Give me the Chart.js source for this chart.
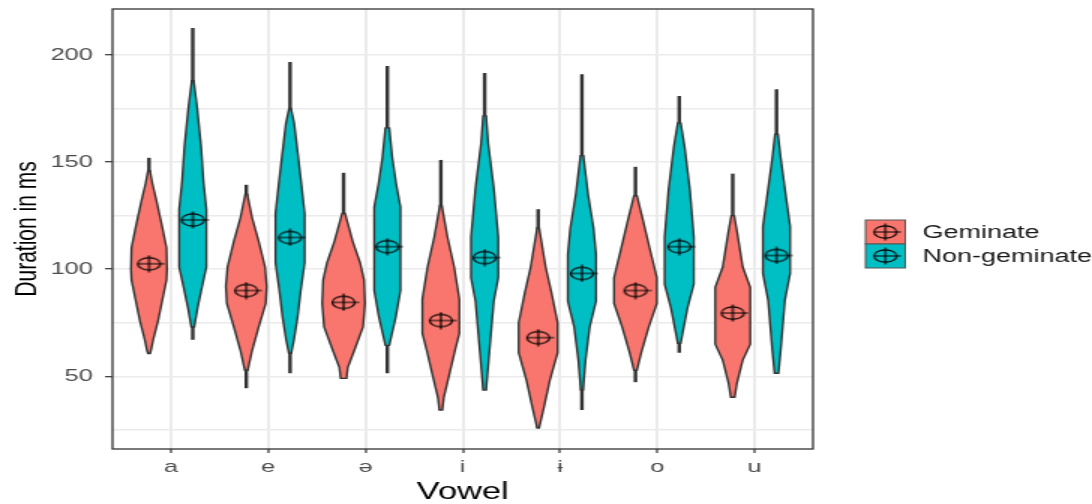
<!DOCTYPE html>
<html>
<head>
<meta charset="utf-8">
<script src="https://cdn.jsdelivr.net/npm/chart.js@4.4.1/dist/chart.umd.min.js"></script>
<style>
    html, body { margin: 0; padding: 0; background: #fff; overflow: hidden; }
    /* the reference is stretched sideways, so draw narrow and stretch the box */
    #wrap { width: 728px; height: 504px; transform: scaleX(1.5); transform-origin: 0 0; }
</style>
</head>
<body>
<div id="wrap"><canvas id="violin-chart"></canvas></div>
<script>
// Categories and groups
const vowels = ['a', 'e', 'ə', 'i', 'ɨ', 'o', 'u'];
const groupNames = ['Geminate', 'Non-geminate'];
const groupColors = ['#F8766D', '#00BFC4'];
const yTicks = [25, 50, 75, 100, 125, 150, 175, 200];

// Means (ms)
const gemMeans = [102.5, 90, 84.5, 76, 68, 90, 79.5];
const nonMeans = [123, 114.8, 110.5, 105.4, 98, 110.5, 106.4];

// Full range of each group [min, max] (ms)
const gemRange = [[60.6, 152], [44.4, 139.4], [49, 145], [34.2, 151], [25.8, 128], [47.2, 147.8], [40.2, 144.6]];
const nonRange = [[67, 212.6], [51.4, 196.7], [51.4, 194.9], [43.5, 191.6], [34.2, 191], [61, 180.9], [51.4, 184]];

// Violin outlines: [duration, half width in category units], top to bottom
const gemProfiles = [
    [[146, 0.01], [140, 0.035], [132, 0.077], [120, 0.135], [110, 0.18], [100, 0.185], [95, 0.18], [85, 0.135], [76, 0.094], [67, 0.043], [62, 0.02], [60.6, 0.01]],
    [[135, 0.01], [124, 0.06], [113, 0.128], [101, 0.193], [92, 0.21], [84, 0.2], [73, 0.128], [62, 0.06], [52.8, 0.015]],
    [[126, 0.015], [113, 0.094], [103, 0.17], [95, 0.21], [84, 0.22], [73, 0.2], [62, 0.11], [54, 0.043], [49, 0.03]],
    [[129.7, 0.01], [115, 0.068], [101, 0.137], [86, 0.19], [70, 0.19], [62, 0.145], [49.5, 0.08], [40, 0.03], [34.2, 0.015]],
    [[119.4, 0.01], [101, 0.077], [89, 0.137], [75, 0.2], [61, 0.2], [48, 0.12], [35.6, 0.06], [25.8, 0.01]],
    [[134.3, 0.015], [123, 0.077], [110, 0.145], [96, 0.22], [84, 0.22], [73, 0.137], [61, 0.06], [52.8, 0.015]],
    [[125, 0.015], [116.6, 0.048], [101, 0.103], [91.5, 0.18], [65, 0.18], [57.5, 0.103], [46.7, 0.043], [40.2, 0.02]]
];
const nonProfiles = [
    [[188, 0.01], [175, 0.046], [157, 0.086], [141, 0.11], [128, 0.14], [101, 0.14], [91.5, 0.094], [82, 0.05], [73, 0.015]],
    [[175, 0.01], [168, 0.043], [155, 0.077], [140, 0.116], [126, 0.15], [103, 0.15], [90, 0.11], [77.5, 0.077], [67, 0.04], [60.7, 0.012]],
    [[166, 0.02], [152, 0.051], [140, 0.09], [129, 0.135], [90, 0.135], [77.5, 0.086], [68, 0.038], [64.4, 0.02]],
    [[171.6, 0.015], [158.5, 0.037], [138, 0.094], [115, 0.14], [96, 0.14], [85, 0.094], [62, 0.05], [43.5, 0.015]],
    [[153, 0.015], [135, 0.063], [119, 0.12], [107, 0.145], [85, 0.145], [73, 0.08], [57.5, 0.037], [43.5, 0.012]],
    [[168.3, 0.015], [157, 0.056], [137, 0.11], [115, 0.15], [93, 0.15], [82, 0.086], [70, 0.034], [65.4, 0.015]],
    [[163, 0.015], [152, 0.043], [132, 0.103], [120, 0.14], [98, 0.14], [85.4, 0.086], [62, 0.043], [51.4, 0.02]]
];

const dodge = 0.225;
const fontFamily = "'Liberation Sans', Arial, sans-serif";

// Circle-plus marker for the means
function makeMarker() {
    const c = document.createElement('canvas');
    c.width = 22;
    c.height = 18;
    const m = c.getContext('2d');
    m.strokeStyle = '#000';
    m.lineWidth = 1.2;
    m.beginPath();
    m.ellipse(11, 9, 7.5, 6.2, 0, 0, Math.PI * 2);
    m.stroke();
    m.beginPath();
    m.moveTo(3, 9);
    m.lineTo(21.5, 9);
    m.moveTo(11, 0.5);
    m.lineTo(11, 17.5);
    m.stroke();
    return c;
}
const marker = makeMarker();

// Draws range lines and violin shapes under the mean markers
const violinPlugin = {
    id: 'violins',
    beforeDatasetsDraw(chart) {
        const ctx = chart.ctx;
        const xs = chart.scales.x;
        const ys = chart.scales.y;
        const area = chart.chartArea;
        ctx.save();
        ctx.beginPath();
        ctx.rect(area.left, area.top, area.right - area.left, area.bottom - area.top);
        ctx.clip();
        [gemProfiles, nonProfiles].forEach((profiles, g) => {
            const ranges = g === 0 ? gemRange : nonRange;
            profiles.forEach((profile, i) => {
                const cx = i + 1 + (g === 0 ? -dodge : dodge);
                const px = xs.getPixelForValue(cx);

                ctx.strokeStyle = '#333333';
                ctx.lineWidth = 2.4;
                ctx.beginPath();
                ctx.moveTo(px, ys.getPixelForValue(ranges[i][0]));
                ctx.lineTo(px, ys.getPixelForValue(ranges[i][1]));
                ctx.stroke();

                ctx.beginPath();
                profile.forEach(([v, w], k) => {
                    const x = xs.getPixelForValue(cx + w);
                    const y = ys.getPixelForValue(v);
                    if (k === 0) ctx.moveTo(x, y); else ctx.lineTo(x, y);
                });
                for (let k = profile.length - 1; k >= 0; k--) {
                    ctx.lineTo(xs.getPixelForValue(cx - profile[k][1]), ys.getPixelForValue(profile[k][0]));
                }
                ctx.closePath();
                ctx.fillStyle = groupColors[g];
                ctx.fill();
                ctx.lineWidth = 1.4;
                ctx.strokeStyle = '#333333';
                ctx.stroke();
            });
        });
        ctx.restore();
    },
    afterDraw(chart) {
        const ctx = chart.ctx;
        const area = chart.chartArea;
        ctx.save();
        // panel border
        ctx.strokeStyle = '#333333';
        ctx.lineWidth = 1.3;
        ctx.strokeRect(area.left, area.top, area.right - area.left, area.bottom - area.top);

        // legend
        const boxX = 577, boxW = 26.5, boxH = 24;
        groupNames.forEach((name, g) => {
            const boxY = 220 + g * boxH;
            ctx.fillStyle = groupColors[g];
            ctx.fillRect(boxX, boxY, boxW, boxH);
            ctx.strokeStyle = '#555555';
            ctx.lineWidth = 1;
            ctx.strokeRect(boxX, boxY, boxW, boxH);
            ctx.drawImage(marker, boxX + boxW / 2 - 11, boxY + boxH / 2 - 9);
            ctx.fillStyle = '#1a1a1a';
            ctx.font = '18px ' + fontFamily;
            ctx.textBaseline = 'middle';
            ctx.textAlign = 'left';
            ctx.fillText(name, 615, boxY + boxH / 2 + 1);
        });
        ctx.restore();
    }
};

const ctx = document.getElementById('violin-chart').getContext('2d');
const violinChart = new Chart(ctx, {
    type: 'scatter',
    data: {
        datasets: [
            {
                label: groupNames[0],
                data: gemMeans.map((m, i) => ({ x: i + 1 - dodge, y: m })),
                pointStyle: marker,
                pointRadius: 8
            },
            {
                label: groupNames[1],
                data: nonMeans.map((m, i) => ({ x: i + 1 + dodge, y: m })),
                pointStyle: marker,
                pointRadius: 8
            }
        ]
    },
    options: {
        responsive: true,
        maintainAspectRatio: false,
        animation: false,
        layout: { padding: { top: 8, right: 186, bottom: 0, left: 0 } },
        plugins: {
            legend: { display: false },
            tooltip: { enabled: false }
        },
        scales: {
            x: {
                type: 'linear',
                min: 0.4,
                max: 7.6,
                afterBuildTicks: scale => {
                    scale.ticks = vowels.map((v, i) => ({ value: i + 1 }));
                },
                afterFit: scale => {
                    scale.height = 55;
                    scale.paddingLeft = 0;
                    scale.paddingRight = 0;
                },
                ticks: {
                    callback: value => vowels[value - 1],
                    autoSkip: false,
                    maxRotation: 0,
                    padding: 4,
                    color: '#4d4d4d',
                    font: { family: fontFamily, size: 17 }
                },
                grid: {
                    color: '#ebebeb',
                    lineWidth: 2,
                    tickLength: 4,
                    tickColor: '#333333',
                    tickWidth: 1.2
                },
                border: { display: false },
                title: {
                    display: true,
                    text: 'Vowel',
                    color: '#000',
                    padding: { top: 0, bottom: 0 },
                    font: { family: fontFamily, size: 23, lineHeight: 1 }
                }
            },
            y: {
                min: 16,
                max: 221.5,
                afterBuildTicks: scale => {
                    scale.ticks = yTicks.map(v => ({ value: v }));
                },
                afterFit: scale => {
                    scale.width = 75;
                    scale.paddingTop = 0;
                    scale.paddingBottom = 0;
                },
                ticks: {
                    callback: value => (value % 50 === 0 ? String(value) : ''),
                    padding: 8,
                    color: '#4d4d4d',
                    font: { family: fontFamily, size: 17 }
                },
                grid: {
                    color: '#ebebeb',
                    lineWidth: 1.4,
                    tickLength: 5,
                    tickColor: c => (c.tick && c.tick.value % 50 === 0 ? '#333333' : 'rgba(0,0,0,0)'),
                    tickWidth: 1.2
                },
                border: { display: false },
                title: {
                    display: true,
                    text: 'Duration in ms',
                    color: '#000',
                    padding: { top: 6, bottom: 0 },
                    font: { family: fontFamily, size: 21 }
                }
            }
        }
    },
    plugins: [violinPlugin]
});
</script>
</body>
</html>
